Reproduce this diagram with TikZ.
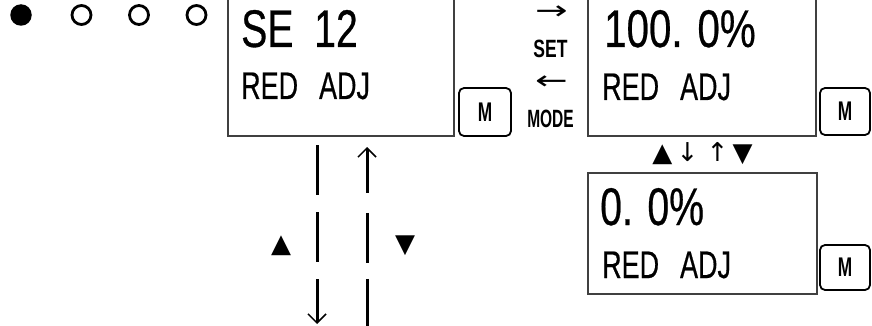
\documentclass[tikz,border=0pt]{standalone}
\usepackage{fontspec}
\setmainfont{Liberation Sans}
\newfontfamily\lcdfont[FakeBold=0.6]{Liberation Sans}
\newfontfamily\symfont{DejaVu Sans}
\usetikzlibrary{arrows.meta}
\newcommand{\sx}[2]{\scalebox{#1}[1]{#2}}
\begin{document}
\begin{tikzpicture}[x=1pt,y=-1pt,
  lcdbox/.style={draw=black!75, line width=1.4pt, inner sep=0pt, fill=none},
  mbtn/.style={draw=black, line width=1.8pt, rounded corners=5pt, inner sep=0pt,
     font=\bfseries\fontsize{27}{27}\selectfont},
  bigtxt/.style={anchor=base west, inner sep=0pt, font=\lcdfont\fontsize{53}{53}\selectfont},
  midtxt/.style={anchor=base west, inner sep=0pt, font=\lcdfont\fontsize{38.5}{38.5}\selectfont},
  smtxt/.style={anchor=base, inner sep=0pt, font=\bfseries\fontsize{25}{25}\selectfont},
  symtxt/.style={inner sep=0pt, font=\symfont\fontsize{26}{26}\selectfont},
  dline/.style={line width=3pt},
  barb/.tip={Straight Barb[length=9pt, width=18pt, line width=1.5pt]},
  dot/.style={circle, inner sep=0pt, minimum size=19pt, line width=2.8pt}]
\useasboundingbox (0,0) rectangle (872,326);
% status dots
\node[dot, fill=black, minimum size=21.5pt] (d1) at (21,15) {};
\node[dot, draw=black] (d2) at (81.5,15) {};
\node[dot, draw=black] (d3) at (139,15) {};
\node[dot, draw=black] (d4) at (196.5,15) {};
% display boxes
\node[lcdbox, minimum width=226pt, minimum height=141pt] (b1) at (341,65.5) {};
\node[lcdbox, minimum width=228pt, minimum height=141pt] (b2) at (702,65.5) {};
\node[lcdbox, minimum width=229pt, minimum height=121pt] (b3) at (702.5,233.5) {};
% texts in boxes
\node[bigtxt] (t1a) at (241,47) {\sx{0.74}{SE\hspace{28pt}12}};
\node[midtxt] (t1b) at (241,99) {\sx{0.7}{RED\hspace{30pt}ADJ}};
\node[bigtxt] (t2a) at (604,47) {\sx{0.76}{100. 0\%}};
\node[midtxt] (t2b) at (602,100) {\sx{0.7}{RED\hspace{30pt}ADJ}};
\node[bigtxt] (t3a) at (600,225) {\sx{0.74}{0. 0\%}};
\node[midtxt] (t3b) at (602,278) {\sx{0.7}{RED\hspace{30pt}ADJ}};
% M buttons
\node[mbtn, minimum width=52pt, minimum height=48pt] (m1) at (485,112) {\sx{0.64}{M}};
\node[mbtn, minimum width=50pt, minimum height=47pt] (m2) at (845,111.5) {\sx{0.64}{M}};
\node[mbtn, minimum width=50pt, minimum height=45pt] (m3) at (845,267.5) {\sx{0.64}{M}};
% SET / MODE
\node[symtxt] (ar1) at (551.5,13) {\sx{1.5}{→}};
\node[smtxt] (set) at (550.5,58) {\sx{0.7}{SET}};
\node[symtxt] (ar2) at (551.5,83) {\sx{1.5}{←}};
\node[smtxt] (mode) at (550.5,128) {\sx{0.62}{MODE}};
% up/down keys
\node[symtxt] (ud) at (702.5,154) {▲\,↓\hspace{8pt}↑\,▼};
\node[symtxt] (up1) at (281,246) {▲};
\node[symtxt] (dn1) at (405,246) {▼};
% dashed connectors
\coordinate (l1) at (317,145);
\coordinate (l2) at (317,324);
\coordinate (r1) at (367,147);
\coordinate (r2) at (367,338);
\draw[dline, dash pattern=on 50pt off 17pt, -{barb}] (l1) -- (l2);
\draw[dline, dash pattern=on 44pt off 20pt on 50pt off 16pt on 60pt off 0pt, {barb}-] (r1) -- (r2);
\end{tikzpicture}
\end{document}
